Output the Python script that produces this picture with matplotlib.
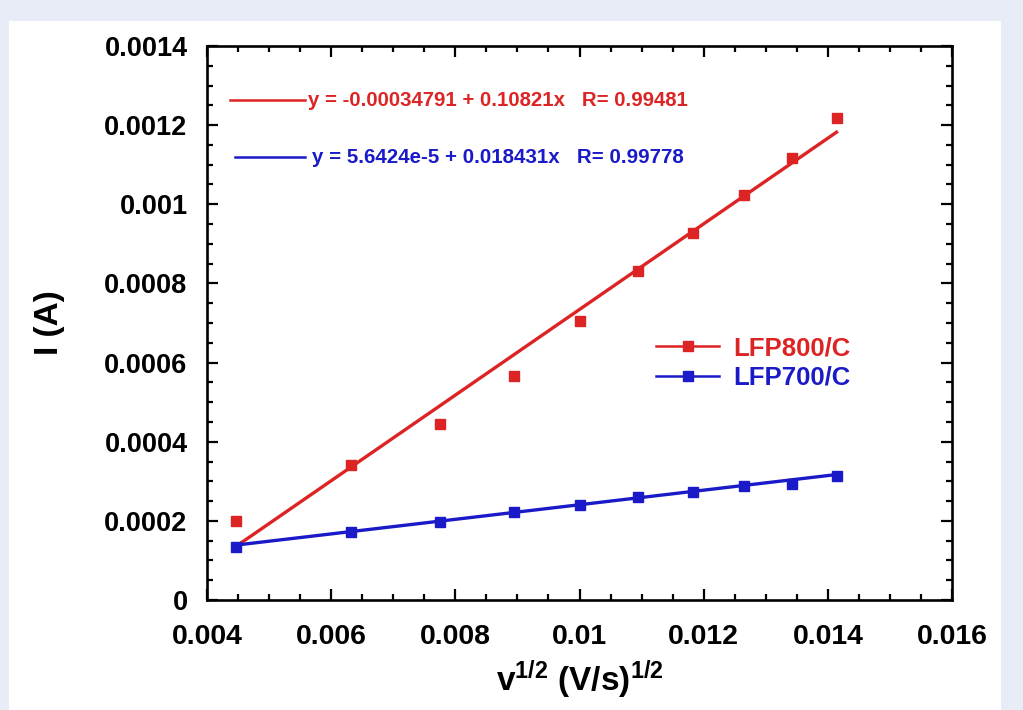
import numpy as np
import matplotlib
matplotlib.use("Agg")
import matplotlib.pyplot as plt
from matplotlib.patches import Rectangle
from matplotlib.ticker import FixedLocator, MultipleLocator, FuncFormatter

plt.rcParams['font.family'] = ['Liberation Sans', 'DejaVu Sans']
plt.rcParams['font.weight'] = 'bold'
plt.rcParams['mathtext.fontset'] = 'custom'
plt.rcParams['mathtext.rm'] = 'Liberation Sans:bold'
plt.rcParams['mathtext.it'] = 'Liberation Sans:bold'
plt.rcParams['mathtext.bf'] = 'Liberation Sans:bold'

# ---- data ----
scan_sqrt = [0.00447, 0.00632, 0.00775, 0.00894, 0.0100, 0.01095, 0.01183, 0.01265, 0.01342, 0.01414]
i_lfp800 = [0.000199, 0.000340, 0.000445, 0.000567, 0.000706, 0.000831, 0.000927, 0.001023, 0.001117, 0.001218]
i_lfp700 = [0.000134, 0.000172, 0.000197, 0.000222, 0.000240, 0.000260, 0.000274, 0.000288, 0.000293, 0.000313]
fit800 = [-0.00034791, 0.10821]   # intercept, slope
fit700 = [5.6424e-5, 0.018431]
fit800_text = "y = -0.00034791 + 0.10821x   R= 0.99481"
fit700_text = "y = 5.6424e-5 + 0.018431x   R= 0.99778"
labels = ["LFP800/C", "LFP700/C"]
xticks = [0.004, 0.006, 0.008, 0.010, 0.012, 0.014, 0.016]
yticks = [0, 0.0002, 0.0004, 0.0006, 0.0008, 0.0010, 0.0012, 0.0014]

RED = '#dc2424'
BLUE = '#1a1ac8'

fig = plt.figure(figsize=(10.23, 7.10), dpi=100, facecolor='#e8ecf7')
fig.patches.append(Rectangle((9/1023, 0), (1001-9)/1023, (710-21)/710,
                             transform=fig.transFigure, facecolor='white',
                             edgecolor='none', zorder=-10))
ax = fig.add_axes([207/1023, 110/710, 745/1023, 554/710])
ax.set_facecolor('white')

x = np.array(scan_sqrt)
# fit lines
xl = np.array([x.min(), x.max()])
ax.plot(xl, fit800[0] + fit800[1]*xl, color=RED, lw=2.4, zorder=2)
ax.plot(xl, fit700[0] + fit700[1]*xl, color=BLUE, lw=2.4, zorder=2)
# data points
ax.plot(x, i_lfp800, 's', color=RED, ms=6.5, zorder=3)
ax.plot(x, i_lfp700, 's', color=BLUE, ms=6.5, zorder=3)

# legend proxies
h1, = ax.plot([], [], '-s', color=RED, lw=1.8, ms=6.5)
h2, = ax.plot([], [], '-s', color=BLUE, lw=1.8, ms=6.5)
leg = ax.legend([h1, h2], labels, loc='center left', bbox_to_anchor=(0.603, 0.428),
                frameon=False, fontsize=18.5, handlelength=2.45, handletextpad=0.55,
                labelspacing=0.22, borderpad=0, borderaxespad=0, markerscale=1)
for t, c in zip(leg.get_texts(), [RED, BLUE]):
    t.set_color(c)
    t.set_fontweight('bold')

# fit annotations
ax.plot([0.031, 0.1315], [0.9025, 0.9025], color=RED, lw=1.8, transform=ax.transAxes)
ax.text(0.1356, 0.9025, fit800_text, color=RED, fontsize=14.7, fontweight='bold',
        va='center', ha='left', transform=ax.transAxes)
ax.plot([0.0376, 0.1315], [0.7996, 0.7996], color=BLUE, lw=1.8, transform=ax.transAxes)
ax.text(0.1410, 0.7996, fit700_text, color=BLUE, fontsize=14.8, fontweight='bold',
        va='center', ha='left', transform=ax.transAxes)

ax.set_xlim(0.004, 0.016)
ax.set_ylim(0, 0.0014)
ax.xaxis.set_major_locator(FixedLocator(xticks))
ax.yaxis.set_major_locator(FixedLocator(yticks))
ax.xaxis.set_minor_locator(MultipleLocator(0.0005))
ax.yaxis.set_minor_locator(MultipleLocator(0.00005))
fmt = FuncFormatter(lambda v, p: '%g' % round(v, 6))
ax.xaxis.set_major_formatter(fmt)
ax.yaxis.set_major_formatter(fmt)

for s in ax.spines.values():
    s.set_linewidth(1.9)
ax.tick_params(which='both', direction='in', top=True, right=True, width=1.6)
ax.tick_params(which='major', length=8)
ax.tick_params(which='minor', length=4.5)
ax.tick_params(axis='x', which='major', labelsize=20.5, pad=17)
ax.tick_params(axis='y', which='major', labelsize=19.5, pad=14)
for lab in ax.get_xticklabels() + ax.get_yticklabels():
    lab.set_fontweight('bold')

ax.set_xlabel(r'v$^{1/2}$ (V/s)$^{1/2}$', fontsize=24, fontweight='bold', labelpad=6)
ax.set_ylabel('I (A)', fontsize=24, fontweight='bold', labelpad=28)

fig.savefig('out.png', dpi=100, facecolor=fig.get_facecolor())
